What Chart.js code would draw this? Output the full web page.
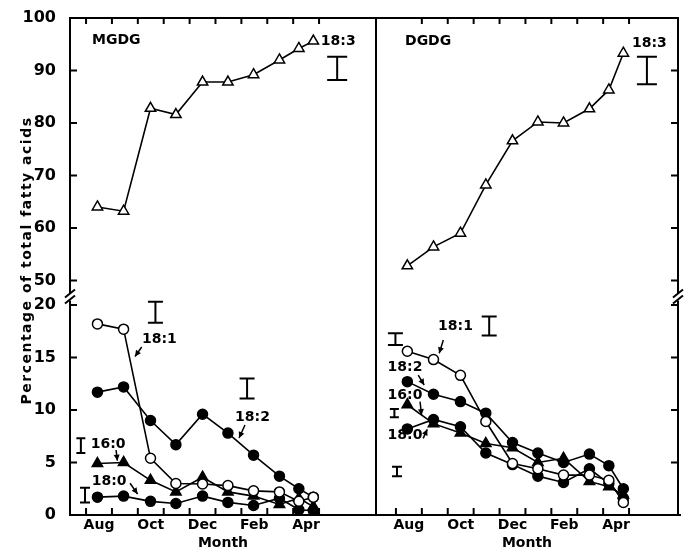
<!DOCTYPE html>
<html>
<head>
<meta charset="utf-8">
<script src="https://cdn.jsdelivr.net/npm/chart.js@4/dist/chart.umd.min.js"></script>
<style>
  html, body { margin: 0; padding: 0; background: #fff; }
  #wrap { position: relative; width: 691px; height: 550px; }
  #wrap canvas { position: absolute; left: 0; top: 0; }
</style>
</head>
<body>
<div id="wrap">
  <canvas id="mgdgChart" width="691" height="550"></canvas>
  <canvas id="dgdgChart" width="691" height="550"></canvas>
</div>
<script>
// sampling dates, counted in months after 1 August
const sampleMonths = [0.44, 1.45, 2.49, 3.47, 4.5, 5.48, 6.47, 7.47, 8.22, 8.78];
const monthLabels = ['Aug', 'Oct', 'Dec', 'Feb', 'Apr'];
const monthLabelPos = [0.5, 2.5, 4.5, 6.5, 8.5];
const monthStarts = [0, 1, 2, 3, 4, 5, 6, 7, 8, 9];
const upperTicks = [50, 60, 70, 80, 90, 100];
const lowerTicks = [0, 5, 10, 15, 20];

// MGDG, % of total fatty acids
const mgdg183 = [64, 63.2, 82.8, 81.6, 87.8, 87.8, 89.2, 92, 94.2, 95.6];
const mgdg181 = [18.2, 17.7, 5.4, 3.0, 2.95, 2.8, 2.3, 2.2, 1.3, 1.7];
const mgdg182 = [11.7, 12.2, 9.0, 6.7, 9.6, 7.8, 5.7, 3.7, 2.5, 1.7];
const mgdg160 = [4.9, 5.0, 3.3, 2.2, 3.6, 2.2, 1.8, 1.0, 1.6, 0.8];
const mgdg180 = [1.7, 1.8, 1.3, 1.1, 1.8, 1.2, 0.9, 1.6, 0.5, 0.4];

// DGDG, % of total fatty acids
const dgdg183 = [52.8, 56.4, 59.0, 68.2, 76.6, 80.2, 80.0, 82.7, 86.3, 93.3];
const dgdg181 = [15.6, 14.8, 13.3, 8.9, 4.9, 4.4, 3.8, 3.8, 3.3, 1.2];
const dgdg182 = [12.7, 11.5, 10.8, 9.7, 6.9, 5.9, 5.0, 5.8, 4.7, 2.5];
const dgdg160 = [10.5, 8.7, 7.8, 6.8, 6.4, 5.0, 5.4, 3.2, 2.7, 1.9];
const dgdg180 = [8.2, 9.1, 8.4, 5.9, 4.8, 3.7, 3.1, 4.4, 3.0, 1.6];

// error bars (I shapes): month position, low, high
const mgdgErrX = [9.7, 2.68, 6.22, -0.2, -0.04];
const mgdgErrLo = [88.2, 18.3, 11.1, 5.9, 1.2];
const mgdgErrHi = [92.6, 20.3, 13.0, 7.3, 2.6];
const dgdgErrX = [9.69, 3.6, -0.02, -0.06, 0.04];
const dgdgErrLo = [87.4, 17.1, 16.2, 9.3, 3.7];
const dgdgErrHi = [92.6, 18.9, 17.3, 10.1, 4.6];

const FONT = '"DejaVu Sans", sans-serif';

function pts(values) {
  return values.map((v, i) => ({ x: sampleMonths[i], y: v }));
}

function series(values, axis, style, filled) {
  const tri = style === 'triangle';
  return {
    data: pts(values),
    yAxisID: axis,
    borderColor: '#000',
    borderWidth: 1.6,
    pointStyle: style,
    pointRadius: tri ? 6 : 5,
    pointBorderWidth: 1.5,
    pointBorderColor: '#000',
    pointBackgroundColor: filled ? '#000' : '#fff',
    tension: 0
  };
}

function errorBars(xs, lo, hi, caps) {
  return xs.map((x, i) => ({
    data: [{ x: x, y: lo[i] }, { x: x, y: hi[i] }],
    yAxisID: i === 0 ? 'yTop' : 'yBot',
    borderColor: '#000',
    borderWidth: 2,
    pointStyle: 'line',
    pointRadius: caps[i] / 2,
    pointBorderWidth: 2,
    pointBorderColor: '#000'
  }));
}

function seg(ctx, x1, y1, x2, y2) {
  ctx.beginPath();
  ctx.moveTo(x1, y1);
  ctx.lineTo(x2, y2);
  ctx.stroke();
}

// box, inward ticks and the axis break
const framePlugin = {
  id: 'frame',
  afterDraw(chart, args, opts) {
    const ctx = chart.ctx;
    const a = chart.chartArea;
    const xs = chart.scales.x, yt = chart.scales.yTop, yb = chart.scales.yBot;
    const split = yb.top;
    const leftBroken = opts.brokenSide === 'left';
    const edge = leftBroken ? a.left : a.right;
    const solid = leftBroken ? a.right : a.left;
    const dir = leftBroken ? 1 : -1;

    ctx.save();
    ctx.strokeStyle = '#000';
    ctx.lineWidth = 2;
    ctx.lineCap = 'square';

    seg(ctx, a.left, a.top, a.right, a.top);
    seg(ctx, a.left, a.bottom, a.right + (opts.overhang || 0), a.bottom);
    seg(ctx, solid, a.top, solid, a.bottom);

    ctx.lineCap = 'butt';
    opts.topTicks.forEach(m => {
      const x = xs.getPixelForValue(m);
      seg(ctx, x, a.top, x, a.top + 6);
    });
    monthStarts.forEach(m => {
      const x = xs.getPixelForValue(m);
      seg(ctx, x, a.bottom, x, a.bottom - 7);
    });

    // broken edge
    seg(ctx, edge, a.top, edge, split + 1);
    seg(ctx, edge, split + 8, edge, a.bottom);
    seg(ctx, edge - 5, split + 5, edge + 5, split - 3);
    seg(ctx, edge - 5, split + 11, edge + 5, split + 3);

    upperTicks.forEach(v => {
      const y = yt.getPixelForValue(v);
      seg(ctx, edge, y, edge + dir * 7, y);
    });
    lowerTicks.forEach(v => {
      const y = yb.getPixelForValue(v);
      seg(ctx, edge, y, edge + dir * 7, y);
    });
    ctx.restore();
  }
};

// panel names, series labels with arrows, y title
const notesPlugin = {
  id: 'notes',
  afterDraw(chart, args, opts) {
    const ctx = chart.ctx;
    const xs = chart.scales.x;
    ctx.save();
    ctx.fillStyle = '#000';
    ctx.strokeStyle = '#000';
    ctx.font = 'bold 14px ' + FONT;
    ctx.textBaseline = 'middle';
    opts.items.forEach(n => {
      const ys = chart.scales[n.axis];
      ctx.textAlign = n.align || 'center';
      ctx.fillText(n.text, xs.getPixelForValue(n.x), ys.getPixelForValue(n.y));
      if (n.arrow) {
        const x1 = xs.getPixelForValue(n.arrow[0]), y1 = ys.getPixelForValue(n.arrow[1]);
        const x2 = xs.getPixelForValue(n.arrow[2]), y2 = ys.getPixelForValue(n.arrow[3]);
        ctx.lineWidth = 1.5;
        seg(ctx, x1, y1, x2, y2);
        const ang = Math.atan2(y2 - y1, x2 - x1);
        ctx.beginPath();
        ctx.moveTo(x2, y2);
        ctx.lineTo(x2 - 6 * Math.cos(ang) + 3 * Math.sin(ang), y2 - 6 * Math.sin(ang) - 3 * Math.cos(ang));
        ctx.lineTo(x2 - 6 * Math.cos(ang) - 3 * Math.sin(ang), y2 - 6 * Math.sin(ang) + 3 * Math.cos(ang));
        ctx.closePath();
        ctx.fill();
      }
    });
    if (opts.yTitle) {
      const a = chart.chartArea;
      ctx.translate(27, (a.top + a.bottom) / 2 - 6);
      ctx.rotate(-Math.PI / 2);
      ctx.textAlign = 'center';
      ctx.letterSpacing = '1.5px';
      ctx.fillText(opts.yTitle, 0, 0);
    }
    ctx.restore();
  }
};

function buildChart(canvasId, cfg) {
  const datasets = [
    series(cfg.s183, 'yTop', 'triangle', false),
    series(cfg.s181, 'yBot', 'circle', false),
    series(cfg.s182, 'yBot', 'circle', true),
    series(cfg.s160, 'yBot', 'triangle', true),
    series(cfg.s180, 'yBot', 'circle', true)
  ].concat(errorBars(cfg.errX, cfg.errLo, cfg.errHi, [20, 15, 15, 9, 10]));

  const showY = cfg.brokenSide === 'left';
  const yCommon = {
    type: 'linear',
    position: 'left',
    stack: 'broken',
    grid: { display: false },
    border: { display: false },
    ticks: {
      display: showY,
      autoSkip: false,
      padding: 6,
      color: '#000',
      font: { family: FONT, size: 16, weight: 'bold' }
    },
    afterFit: s => { s.width = showY ? 70 : 0; }
  };

  return new Chart(document.getElementById(canvasId), {
    type: 'line',
    data: { datasets: datasets },
    options: {
      responsive: false,
      animation: false,
      layout: { padding: cfg.padding },
      plugins: {
        legend: { display: false },
        tooltip: { enabled: false },
        frame: { brokenSide: cfg.brokenSide, topTicks: cfg.topTicks, overhang: cfg.overhang },
        notes: { items: cfg.notes, yTitle: cfg.yTitle }
      },
      scales: {
        x: {
          type: 'linear',
          min: cfg.xMin,
          max: cfg.xMax,
          grid: { display: false, drawTicks: false },
          border: { display: false },
          afterBuildTicks: s => { s.ticks = monthLabelPos.map(v => ({ value: v })); },
          afterFit: s => { s.height = 35; },
          ticks: {
            autoSkip: false,
            maxRotation: 0,
            padding: 2,
            color: '#000',
            font: { family: FONT, size: 14, weight: 'bold' },
            callback: (v, i) => monthLabels[i]
          },
          title: {
            display: true,
            text: 'Month',
            color: '#000',
            padding: { top: 0, bottom: -2 },
            font: { family: FONT, size: 14, weight: 'bold' }
          }
        },
        yTop: Object.assign({}, yCommon, {
          min: 47.714, max: 100, stackWeight: 274.5, weight: 1,
          afterBuildTicks: s => { s.ticks = upperTicks.map(v => ({ value: v })); }
        }),
        yBot: Object.assign({}, yCommon, {
          min: 0, max: 21.19, stackWeight: 222.5, weight: 0,
          afterBuildTicks: s => { s.ticks = lowerTicks.map(v => ({ value: v })); }
        })
      }
    },
    plugins: [framePlugin, notesPlugin]
  });
}

buildChart('mgdgChart', {
  s183: mgdg183, s181: mgdg181, s182: mgdg182, s160: mgdg160, s180: mgdg180,
  errX: mgdgErrX, errLo: mgdgErrLo, errHi: mgdgErrHi,
  xMin: -0.62, xMax: 11.2,
  padding: { top: 18, left: 0, right: 315, bottom: 0 },
  brokenSide: 'left',
  topTicks: monthStarts,
  overhang: 0,
  yTitle: 'Percentage of total fatty acids',
  notes: [
    { text: 'MGDG', x: 0.23, y: 95.8, axis: 'yTop', align: 'left' },
    { text: '18:3', x: 9.07, y: 95.6, axis: 'yTop', align: 'left' },
    { text: '18:1', x: 2.83, y: 16.76, axis: 'yBot', arrow: [2.15, 16.0, 1.89, 15.1] },
    { text: '18:2', x: 6.43, y: 9.29, axis: 'yBot', arrow: [6.14, 8.57, 5.91, 7.33] },
    { text: '16:0', x: 0.85, y: 6.76, axis: 'yBot', arrow: [1.16, 6.19, 1.21, 5.17] },
    { text: '18:0', x: 0.89, y: 3.17, axis: 'yBot', arrow: [1.70, 3.02, 1.99, 2.0] }
  ]
});

buildChart('dgdgChart', {
  s183: dgdg183, s181: dgdg181, s182: dgdg182, s160: dgdg160, s180: dgdg180,
  errX: dgdgErrX, errLo: dgdgErrLo, errHi: dgdgErrHi,
  xMin: -0.77, xMax: 10.89,
  padding: { top: 18, left: 376, right: 13, bottom: 0 },
  brokenSide: 'right',
  topTicks: monthStarts.slice(1),
  overhang: 2,
  yTitle: null,
  notes: [
    { text: 'DGDG', x: 0.35, y: 95.6, axis: 'yTop', align: 'left' },
    { text: '18:3', x: 9.11, y: 95.2, axis: 'yTop', align: 'left' },
    { text: '18:1', x: 2.30, y: 17.93, axis: 'yBot', arrow: [1.83, 16.67, 1.67, 15.4] },
    { text: '18:2', x: 0.35, y: 14.05, axis: 'yBot', arrow: [0.86, 13.33, 1.09, 12.38] },
    { text: '16:0', x: 0.35, y: 11.35, axis: 'yBot', arrow: [0.93, 10.79, 0.99, 9.52] },
    { text: '18:0', x: 0.35, y: 7.62, axis: 'yBot', arrow: [1.05, 7.3, 1.21, 8.16] }
  ]
});
</script>
</body>
</html>
